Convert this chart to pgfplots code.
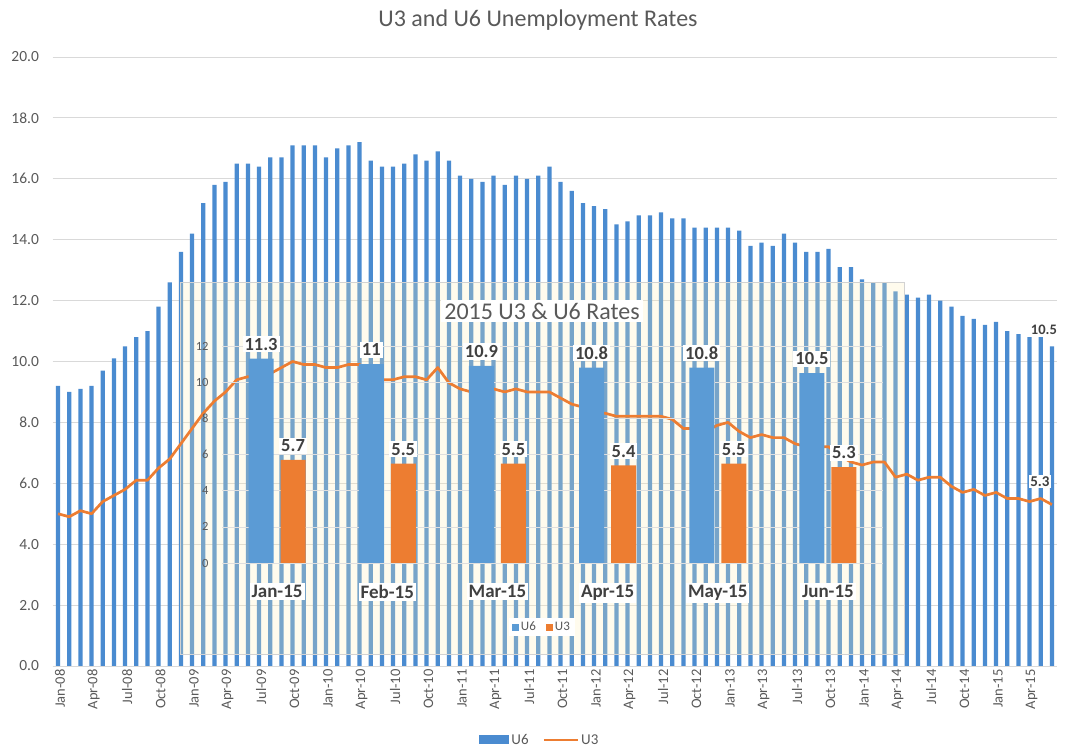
\documentclass[border=0pt]{standalone}
\usepackage{fontspec}
\setmainfont{Carlito}
\usepackage{pgfplots}
\usepackage{pgfplotstable}
\pgfplotsset{compat=1.18}
\definecolor{ublue}{HTML}{4A8BD0}
\definecolor{iblue}{HTML}{5B9BD5}
\definecolor{uorange}{HTML}{ED7D31}
\definecolor{txtgray}{HTML}{595959}
\definecolor{lblgray}{HTML}{404040}
\definecolor{gridgray}{HTML}{D9D9D9}
\definecolor{cream}{HTML}{FFF0B8}
\pgfplotstableread{
i u6 u3
0 9.2 5.0
1 9.0 4.9
2 9.1 5.1
3 9.2 5.0
4 9.7 5.4
5 10.1 5.6
6 10.5 5.8
7 10.8 6.1
8 11.0 6.1
9 11.8 6.5
10 12.6 6.8
11 13.6 7.3
12 14.2 7.8
13 15.2 8.3
14 15.8 8.7
15 15.9 9.0
16 16.5 9.4
17 16.5 9.5
18 16.4 9.5
19 16.7 9.6
20 16.7 9.8
21 17.1 10.0
22 17.1 9.9
23 17.1 9.9
24 16.7 9.8
25 17.0 9.8
26 17.1 9.9
27 17.2 9.9
28 16.6 9.6
29 16.4 9.4
30 16.4 9.4
31 16.5 9.5
32 16.8 9.5
33 16.6 9.4
34 16.9 9.8
35 16.6 9.3
36 16.1 9.1
37 16.0 9.0
38 15.9 9.0
39 16.1 9.1
40 15.8 9.0
41 16.1 9.1
42 16.0 9.0
43 16.1 9.0
44 16.4 9.0
45 15.9 8.8
46 15.6 8.6
47 15.2 8.5
48 15.1 8.3
49 15.0 8.3
50 14.5 8.2
51 14.6 8.2
52 14.8 8.2
53 14.8 8.2
54 14.9 8.2
55 14.7 8.1
56 14.7 7.8
57 14.4 7.8
58 14.4 7.7
59 14.4 7.9
60 14.4 8.0
61 14.3 7.7
62 13.8 7.5
63 13.9 7.6
64 13.8 7.5
65 14.2 7.5
66 13.9 7.3
67 13.6 7.2
68 13.6 7.2
69 13.7 7.2
70 13.1 6.9
71 13.1 6.7
72 12.7 6.6
73 12.6 6.7
74 12.6 6.7
75 12.3 6.2
76 12.2 6.3
77 12.1 6.1
78 12.2 6.2
79 12.0 6.2
80 11.8 5.9
81 11.5 5.7
82 11.4 5.8
83 11.2 5.6
84 11.3 5.7
85 11.0 5.5
86 10.9 5.5
87 10.8 5.4
88 10.8 5.5
89 10.5 5.3
}\monthly
\pgfplotstableread{
i u6 u3
0 11.3 5.7
1 11.0 5.5
2 10.9 5.5
3 10.8 5.4
4 10.8 5.5
5 10.5 5.3
}\inset
\begin{document}
\begin{tikzpicture}
\useasboundingbox (0,0) rectangle (1071pt,751pt);
% main chart
\begin{axis}[
  at={(52.5pt,85pt)}, anchor=south west,
  scale only axis, width=1005pt, height=609pt,
  xmin=-0.5, xmax=89.5, ymin=0, ymax=20,
  ytick={0,2,...,20},
  xtick={0,3,...,87},
  xticklabels={Jan-08,Apr-08,Jul-08,Oct-08,Jan-09,Apr-09,Jul-09,Oct-09,Jan-10,Apr-10,Jul-10,Oct-10,Jan-11,Apr-11,Jul-11,Oct-11,Jan-12,Apr-12,Jul-12,Oct-12,Jan-13,Apr-13,Jul-13,Oct-13,Jan-14,Apr-14,Jul-14,Oct-14,Jan-15,Apr-15},
  axis lines*=left,
  x axis line style={gridgray, line width=0.8pt, -},
  y axis line style={draw=none},
  tick style={draw=none},
  ymajorgrids, grid style={gridgray, line width=0.8pt},
  yticklabel style={font=\fontsize{15.5}{15.5}\selectfont, text=txtgray, xshift=-10pt},
  xticklabel style={font=\fontsize{14.5}{14.5}\selectfont, text=txtgray, rotate=90, anchor=east, yshift=-2pt},
  /pgf/number format/.cd, fixed, fixed zerofill, precision=1, assume math mode=true,
  /pgfplots/.cd,
  legend style={at={(0.485,-0.1215)}, anchor=center, draw=none, fill=none,
    font=\fontsize{15}{15}\selectfont\color{txtgray},
    /tikz/every even column/.append style={column sep=12pt}},
  legend columns=2,
]
\addplot[ybar, bar width=4.2pt, fill=ublue, draw=none,
  legend image code/.code={\fill[ublue] (0pt,-4.5pt) rectangle (30pt,4.5pt);}]
  table[x=i,y=u6]{\monthly};
\addlegendentry{U6}
\addlegendimage{legend image code/.code={\draw[uorange,line width=2.5pt] (0pt,0pt)--(34pt,0pt);}}
\addlegendentry{U3}
\node[font=\bfseries\fontsize{14.5}{14.5}\selectfont, text=lblgray, fill=white, inner sep=1pt]
  at (axis cs:89,10.5) [xshift=-8pt, yshift=16pt] {10.5};
\end{axis}
% title
\node[font=\fontsize{24}{24}\selectfont, text=txtgray] at (538pt,731pt) {U3 and U6 Unemployment Rates};
% inset background
\fill[cream, opacity=0.25] (180pt,97pt) rectangle (904pt,469pt);
\draw[gray!35, line width=0.6pt] (180pt,97pt) rectangle (904pt,469pt);
% U3 line
\begin{axis}[
  at={(52.5pt,85pt)}, anchor=south west,
  scale only axis, width=1005pt, height=609pt,
  xmin=-0.5, xmax=89.5, ymin=0, ymax=20,
  hide axis, clip=false,
]
\addplot[uorange, line width=2.7pt, line join=round] table[x=i,y=u3]{\monthly};
\node[font=\bfseries\fontsize{15}{15}\selectfont, text=lblgray, fill=white, inner sep=1.5pt]
  at (axis cs:89,5.3) [xshift=-12pt, yshift=23pt] {5.3};
\end{axis}
% inset title
\node[fill=white, font=\fontsize{24}{24}\selectfont, text=txtgray, inner sep=3pt] at (542pt,440pt) {2015 U3 \& U6 Rates};
% inset chart
\begin{axis}[
  at={(222pt,188pt)}, anchor=south west,
  scale only axis, width=661pt, height=217pt,
  xmin=-0.5, xmax=5.5, ymin=0, ymax=12,
  ytick={0,2,...,12}, xtick={0,...,5},
  xticklabels={Jan-15,Feb-15,Mar-15,Apr-15,May-15,Jun-15},
  axis line style={draw=none}, tick style={draw=none},
  ymajorgrids, grid style={gray!25, line width=0.6pt},
  yticklabel style={font=\fontsize{12.5}{12.5}\selectfont, text=txtgray, xshift=-10pt},
  xticklabel style={font=\bfseries\fontsize{19}{19}\selectfont, text=lblgray, fill=white, inner sep=2pt, yshift=-16pt},
  ybar, bar width=25pt,
  nodes near coords,
  every node near coord/.append style={font=\bfseries\fontsize{18.5}{18.5}\selectfont, text=lblgray, fill=white, inner sep=2pt, yshift=6pt},
  /pgf/number format/assume math mode=true,
  legend style={at={(0.484,-0.295)}, anchor=center, draw=none, fill=white,
    font=\fontsize{13}{13}\selectfont\color{txtgray},
    /tikz/every even column/.append style={column sep=8pt}},
  legend columns=2,
]
\addplot[fill=iblue, draw=none, bar shift=-16pt,
  legend image code/.code={\fill[iblue] (0pt,-3.5pt) rectangle (7pt,3.5pt);}]
  table[x=i,y=u6]{\inset};
\addlegendentry{U6}
\addplot[fill=uorange, draw=none, bar shift=16pt,
  legend image code/.code={\fill[uorange] (0pt,-3.5pt) rectangle (7pt,3.5pt);}]
  table[x=i,y=u3]{\inset};
\addlegendentry{U3}
\end{axis}
\end{tikzpicture}
\end{document}
